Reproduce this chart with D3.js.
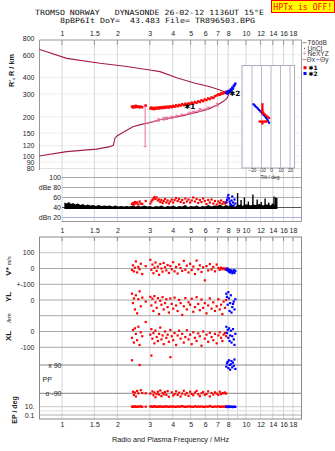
<!DOCTYPE html>
<html><head><meta charset="utf-8">
<script src="https://cdn.jsdelivr.net/npm/d3@7"></script>
<style>body{margin:0;background:#fff}svg{display:block}</style>
</head><body><svg id="c" width="335" height="451"></svg>
<script>
// ---------------- DATA ----------------
const titleLine1 = "TROMSO NORWAY   DYNASONDE 26-02-12 1136UT 15°E";
const titleLine2 = "8pBP6It DoY=  43.483 File= TR896503.BPG";
const warnText = "HPTx is OFF!";
const freqTicksTop = [1,1.5,2,3,4,5,6,7,8,10,12,14,16,18];
const freqTicksMid = [1,1.5,2,3,4,5,6,7,8,9,10,12,14,16,18];
const heightTicks = [800,600,400,300,200,150,120,100,90,80];
const dbTicks = [100,80,60,40,20];
const dbTickLabels = ["100","dBe 80","60","40","dBn 20"];
const tiltTicks = [-20,-10,0,10,20];

// model profile (plasma freq vs real height), bottomside then topside
const profFreq = [0.75,1.06,1.54,1.82,1.90,1.92,1.94,1.98,2.2,2.43,2.7,3.0,3.41,3.87,4.47,5.17,5.62,6.23,6.99,7.5,7.85,8.02,7.95,7.85,7.22,6.37,5.17,4.2,3.41,3.0,2.2,1.61,1.06,0.75];
const profH    = [100,108,113,118,121,128,137,142,155,168,175,180,190,196,203,213,220,229,247,262,276,292,300,307,321,341,366,400,445,458,490,516,563,661];

// NeXYZ profile points with error bars
const neFreq = [2.83,3.34,3.58,3.70,3.95,4.20,4.47,4.92,5.17,5.62,6.23,6.99];
const neH    = [178,189,193,195,198,202,206,213,217,226,233,248];
const neLo   = [118,185,189,191,194,198,202,209,213,221,228,242];
const neHi   = [246,193,197,199,202,206,210,217,221,231,238,254];

// O-mode echoes (*1)
const oFreq = [2.40,2.43,2.46,2.49,2.52,2.56,2.60,2.64,2.68,2.73,
 2.85,3.02,3.06,3.10,3.14,3.18,3.22,3.27,3.32,3.37,
 3.42,3.47,3.52,3.57,3.63,3.69,3.75,3.81,3.88,3.95,
 4.02,4.09,4.17,4.25,4.33,4.41,4.50,4.59,4.68,4.77,
 4.87,4.97,5.07,5.17,5.28,5.39,5.50,5.61,5.73,5.85,
 5.97,6.10,6.23,6.36,6.50,6.64,6.78,6.93,7.08,7.20,
 7.32,7.44,7.56,7.68,7.80];
const oHeight = [240,236,241,237,243,238,241,236,240,237,
 244,232,236,230,234,229,235,231,236,232,
 237,233,238,234,239,235,240,236,241,237,
 243,239,245,241,247,244,250,246,252,248,
 254,251,257,253,260,256,263,260,268,264,
 272,269,277,274,282,279,288,292,298,295,
 303,300,308,305,312];
const oAmp = [47,49,46,51,48,50,46,52,48,47,
 53,48,52,55,58,61,57,60,54,56,
 51,55,49,53,57,50,54,48,52,56,
 50,55,59,53,57,51,55,49,58,52,
 56,50,54,60,52,57,49,55,51,58,
 53,47,55,50,56,48,53,46,52,49,
 54,47,51,48,50];
const oVstar = [-10,20,-18,5,45,-25,10,-5,30,-35,
 15,55,-8,25,-30,5,38,-15,12,-40,
 28,0,-20,35,8,-12,22,-28,15,-5,
 40,-18,10,-32,25,3,-15,48,-8,18,
 -25,30,-10,12,-35,50,-5,20,-22,8,
 -75,15,-12,28,-6,10,-18,25,3,-8,
 5,-4,2,-6,0];
const oYL = [40,-20,10,-60,30,-85,5,55,-40,15,
 -10,20,-35,8,-70,25,-15,-50,12,-90,
 -5,-30,18,-60,-20,5,-45,-80,10,-25,
 -55,15,-35,-70,0,-20,-95,-40,12,-60,
 -15,-30,8,-75,-45,18,-25,-65,3,-50,
 -20,-85,-35,10,-55,-15,-70,-40,5,-60,
 -30,-90,-10,-50,0];
const oXL = [-40,10,-70,20,-15,-55,30,-85,-5,-30,
 60,-20,15,-45,-10,-75,5,-35,-60,-15,
 25,-50,-25,-80,0,-40,-20,-65,10,-30,
 -55,-10,-85,-25,5,-45,-15,-70,-35,8,
 -50,-20,-80,-5,-40,-60,-12,-30,-90,0,
 -45,-20,-65,-8,-35,-55,-15,-75,-25,-5,
 -40,-60,-20,-10,-30];
const oPP = [120,-80,-100,-85,-110,-75,-90,90,-70,-88,
 -90,-92,150,-78,-102,-85,-115,-95,-80,-98,
 -72,-108,-88,-96,-82,-100,-76,-112,140,-84,
 -104,-95,-78,-100,-86,-110,-92,-74,-98,-88,
 -106,-80,-94,-102,-85,-75,-96,-108,-90,-82,
 -100,-94,-78,-110,-88,-98,-84,-92,-100,-80,
 -95,-88,-90,-85,-92];
const oEP = [10,11,9,12,10,9.5,11,10,13,9,
 10,11,12,9,10,14,10,9,11,10,
 12,10,9,11,10,13,10,9,12,10,
 11,10,9,12,10,11,14,10,9,10,
 12,11,10,9,13,10,11,10,12,9,
 10,11,10,15,10,9,11,10,12,10,
 9,11,10,10,12];

// X-mode echoes (*2)
const xFreq   = [7.82,7.88,7.95,8.02,8.08,8.14,8.20,8.27,8.34,8.42,8.50,8.58,8.66,8.75];
const xHeight = [305,310,302,315,308,318,312,325,320,335,330,345,350,360];
const xAmp    = [50,55,60,65,58,52,48,45,54,62,50,44,56,48];
const xVstar  = [-5,-10,0,-15,-20,-8,-25,-12,-18,-30,-22,-10,-28,-15];
const xYL     = [40,20,-30,50,10,-70,-20,30,-80,-45,-25,-10,-60,5];
const xXL     = [30,-10,10,-40,20,-60,-25,5,-70,-30,15,-50,-85,-15];
const xPP     = [80,100,110,70,120,90,60,95,115,75,105,85,125,65];
const xEP     = [9,10,8,11,9.5,10,8.5,9,10,9,8,9.5,10,9];

// noise level (dB)
const noiseFreq = [1.03,1.06,1.09,1.12,1.15,1.18,1.22,1.26,1.30,1.34,
 1.38,1.43,1.48,1.53,1.58,1.64,1.70,1.76,1.82,1.88,
 1.95,2.02,2.09,2.17,2.25,2.33,2.42,2.51,2.60,2.70,
 2.80,2.90,3.01,3.12,3.24,3.36,3.48,3.61,3.75,3.89,
 4.03,4.18,4.34,4.50,4.67,4.84,5.02,5.21,5.40,5.60,
 5.81,6.03,6.25,6.48,6.72,6.97,7.23,7.50,7.78,8.07,
 8.37,8.68,9.00,9.20,9.40,9.60,9.80,10.0,10.3,10.6,
 10.9,11.2,11.5,11.8,12.1,12.4,12.7,13.0,13.3,13.6,
 13.9,14.2,14.5,14.7];
const noiseDb = [50,48,51,47,49,46,48,45,47,44,
 46,44,45,43,45,43,44,43,44,42,
 44,42,43,42,43,42,44,42,43,42,
 44,42,43,41,43,42,44,41,43,42,
 44,41,43,42,45,41,43,42,44,41,
 43,42,45,42,44,43,46,42,45,43,
 47,41,69,45,55,43,60,46,52,44,
 66,45,56,47,51,44,58,46,50,44,
 48,62,60,59];
const noiseBase = 37;

// tilt inset
const tiltRedDeg = [-9,-9,-9,-9,-9,-9.5,-8,-6.5,-5,-3.5,-2,-12,-10,-8,-6,-4.5,-9];
const tiltRedH   = [250,240,230,222,212,222,215,209,204,200,196,184,184,184,184,184,178];
const tiltBlueDeg = [-18.5,-17,-15.5,-14,-12.5,-11,-9.5,-8,-6.5,-5,-3.5,-2];
const tiltBlueH   = [250,244,238,232,226,220,214,208,202,196,188,180];

const traceLabels = ["\u27311","\u27312"];
const traceLabelFreq = [4.62,8.12];
const traceLabelH = [242,305];

// ---------------- DRAW ----------------
const svg = d3.select('#c');
const SANS = "'Liberation Sans', Arial, sans-serif";
const MONO = "'DejaVu Sans Mono', monospace";
const RED = "#ff0000", BLUE = "#0000ff", PROF = "#a31b4b", PINK = "#e8709a";
const X0 = 39.5, X1 = 301.5;
const T0 = 40, T1 = 170, TD = 221.5, L0 = 237, L1 = 419;

const x = d3.scaleLog().domain([1,10]).range([62,246]);
const hY = d3.scaleLog().domain([100,800]).range([156,38.5]);
const dbY = d3.scaleLinear().domain([20,100]).range([217.5,177.5]);
const vY = d3.scaleLinear().domain([-100,100]).range([284.3,252.7]);
const ylY = d3.scaleLinear().domain([-100,100]).range([315.7,284.3]);
const xlY = d3.scaleLinear().domain([-100,100]).range([347.3,315.7]);
const ppY = d3.scaleLinear().domain([-90,90]).range([393.3,365]);
const epY = d3.scaleLog().domain([0.1,10]).range([415,406.7]);
const tiltX = d3.scaleLinear().domain([-20,20]).range([252,290]);

// title
svg.append('text').attr('x',35).attr('y',14.6).attr('textLength',229).attr('lengthAdjust','spacingAndGlyphs')
  .style('white-space','pre').attr('font-family',MONO).attr('font-size',7.2).attr('fill','#111').text(titleLine1);
svg.append('text').attr('x',60).attr('y',23).attr('textLength',195).attr('lengthAdjust','spacingAndGlyphs')
  .style('white-space','pre').attr('font-family',MONO).attr('font-size',7.2).attr('fill','#111').text(titleLine2);
svg.append('rect').attr('x',271.5).attr('y',0.5).attr('width',63).attr('height',12).attr('fill','#ffff00').attr('stroke','#ff0000');
svg.append('text').attr('x',273.3).attr('y',10).attr('textLength',59).attr('lengthAdjust','spacingAndGlyphs')
  .attr('font-family',MONO).attr('font-size',8.6).attr('fill','#ff0000').text(warnText);

// grids
const grid = svg.append('g');
grid.selectAll(null).data(heightTicks.filter(h=>hY(h)>T0+1)).join('line')
  .attr('x1',X0).attr('x2',X1).attr('y1',d=>hY(d)).attr('y2',d=>hY(d)).attr('stroke','#eeeeee');
grid.selectAll(null).data(freqTicksTop).join('line')
  .attr('x1',d=>x(d)).attr('x2',d=>x(d)).attr('y1',T0).attr('y2',TD).attr('stroke','#d6d6d6');
grid.selectAll(null).data(freqTicksMid).join('line')
  .attr('x1',d=>x(d)).attr('x2',d=>x(d)).attr('y1',L0).attr('y2',L1).attr('stroke','#d6d6d6');
grid.selectAll(null).data(freqTicksTop).join('line')
  .attr('x1',d=>x(d)).attr('x2',d=>x(d)).attr('y1',T0).attr('y2',T0+5).attr('stroke','#999');
grid.selectAll(null).data(freqTicksMid).join('line')
  .attr('x1',d=>x(d)).attr('x2',d=>x(d)).attr('y1',L0).attr('y2',L0+4).attr('stroke','#888');
grid.append('line').attr('x1',X0).attr('x2',X1).attr('y1',T1-1.5).attr('y2',T1-1.5).attr('stroke','#d0d0d0').attr('stroke-dasharray','1,1');
grid.selectAll(null).data(dbTicks).join('line')
  .attr('x1',62).attr('x2',X1).attr('y1',d=>dbY(d)).attr('y2',d=>dbY(d))
  .attr('stroke',d=>d===40?'#555':(d===20?'#aab0e6':'#aaa'));
const lowLines = [
  [vY(100),'#c4c4c4'],[vY(0),'#a8a8a8'],[vY(-100),'#a8a8a8'],
  [ylY(0),'#a8a8a8'],[ylY(-100),'#a8a8a8'],[xlY(0),'#a8a8a8'],[xlY(-100),'#a8a8a8'],
  [ppY(90),'#888'],[ppY(-90),'#888'],[epY(10),'#c8c8c8'],[epY(1),'#dedede'],[epY(0.1),'#b0b0b0']];
grid.selectAll(null).data(lowLines).join('line')
  .attr('x1',X0).attr('x2',X1).attr('y1',d=>d[0]).attr('y2',d=>d[0]).attr('stroke',d=>d[1]);

// frames
const frame = svg.append('g').attr('fill','none').attr('stroke','#999');
frame.append('path').attr('d',`M${X0},${T1}V${T0}H${X1}V${TD}H${X0+22}`);
frame.append('rect').attr('x',X0).attr('y',L0).attr('width',X1-X0).attr('height',L1-L0).attr('stroke','#8a8a8a');

svg.append('clipPath').attr('id','ctop').append('rect').attr('x',X0).attr('y',T0).attr('width',X1-X0).attr('height',T1-T0);

function styleAxis(g){ g.select('.domain').remove(); g.selectAll('text').attr('font-family',SANS).attr('font-size',7).attr('fill','#222'); g.selectAll('line').remove(); }
svg.append('g').attr('transform',`translate(0,${T0})`)
  .call(d3.axisTop(x).tickValues(freqTicksTop).tickFormat(d3.format('')).tickSize(0).tickPadding(4.5)).call(styleAxis);
svg.append('g').attr('transform',`translate(0,${L0})`)
  .call(d3.axisTop(x).tickValues(freqTicksMid).tickFormat(d3.format('')).tickSize(0).tickPadding(4.5)).call(styleAxis);
svg.append('g').attr('transform',`translate(0,${L1})`)
  .call(d3.axisBottom(x).tickValues(freqTicksTop).tickFormat(d3.format('')).tickSize(0).tickPadding(3.5)).call(styleAxis);

svg.append('g').attr('transform',`translate(${X0},0)`)
  .call(d3.axisLeft(hY).tickValues(heightTicks).tickFormat(d3.format('d')).tickSize(0).tickPadding(5)).call(styleAxis);
svg.append('g').attr('transform',`translate(62,0)`)
  .call(d3.axisLeft(dbY).tickValues(dbTicks).tickFormat((d,i)=>dbTickLabels[i]).tickSize(0).tickPadding(1)).call(styleAxis);
function leftLabels(scale, vals, labels){
  svg.append('g').attr('transform',`translate(${X0},0)`)
   .call(d3.axisLeft(scale).tickValues(vals).tickFormat((d,i)=>labels[i]).tickSize(0).tickPadding(5)).call(styleAxis);
}
leftLabels(vY,[100,0,-100],["100","0","+-100"]);
leftLabels(ylY,[0],["0"]);
leftLabels(xlY,[0,-100],["0","-100"]);
leftLabels(epY,[10,0.1],["10.","0.1"]);
svg.append('g').attr('transform',`translate(61.5,0)`)
  .call(d3.axisLeft(ppY).tickValues([90,-90]).tickFormat(d=>d>0?"x 90":"o -90").tickSize(0).tickPadding(0)).call(styleAxis);
svg.append('text').attr('x',42.5).attr('y',381.8).attr('font-family',SANS).attr('font-size',7).attr('fill','#222').text('PP');

function rot(xp, yp, txt, size, weight){
  return svg.append('text').attr('transform',`translate(${xp},${yp}) rotate(-90)`).attr('text-anchor','middle')
   .attr('font-family',SANS).attr('font-size',size).attr('font-weight',weight||'bold').attr('fill','#222').text(txt);
}
rot(14,70.5,"R', R / km",7.3);
const vs = svg.append('text').attr('transform',`translate(10.5,266) rotate(-90)`).attr('text-anchor','middle')
  .attr('font-family',SANS).attr('fill','#222');
vs.append('tspan').attr('font-size',8).attr('font-weight','bold').text('V*');
vs.append('tspan').attr('font-size',5.5).attr('dx',2).text('m/s');
rot(10.5,297,"YL",8);
rot(10.5,318,"/km",6,'normal');
rot(10.5,336,"XL",8);
rot(16.5,410,"EP / deg",7);
svg.append('text').attr('x',170.5).attr('y',441.5).attr('text-anchor','middle').attr('font-family',SANS)
  .attr('font-size',7.3).attr('fill','#222').text('Radio and Plasma Frequency / MHz');

// ---- top panel data ----
const topG = svg.append('g').attr('clip-path','url(#ctop)');
topG.append('path').datum(d3.range(profFreq.length))
  .attr('d',d3.line().x(i=>x(profFreq[i])).y(i=>hY(profH[i])))
  .attr('fill','none').attr('stroke',PROF).attr('stroke-width',1.1);
topG.append('path').datum(d3.range(neFreq.length))
  .attr('d',d3.line().x(i=>x(neFreq[i])).y(i=>hY(neH[i])))
  .attr('fill','none').attr('stroke',PINK).attr('stroke-width',0.9);
const ne = topG.append('g').attr('stroke',PINK).attr('stroke-width',1);
d3.range(neFreq.length).forEach(i=>{
  const xx=x(neFreq[i]);
  ne.append('line').attr('x1',xx).attr('x2',xx).attr('y1',hY(neLo[i])).attr('y2',hY(neHi[i]));
  ne.append('line').attr('x1',xx-1.5).attr('x2',xx+1.5).attr('y1',hY(neLo[i])).attr('y2',hY(neLo[i]));
  ne.append('line').attr('x1',xx-1.5).attr('x2',xx+1.5).attr('y1',hY(neHi[i])).attr('y2',hY(neHi[i]));
});
function squares(g, n, xf, yf, color, s){
  g.selectAll(null).data(d3.range(n)).join('rect')
   .attr('x',i=>xf(i)-s/2).attr('y',i=>yf(i)-s/2).attr('width',s).attr('height',s).attr('fill',color);
}
squares(topG, oFreq.length, i=>x(oFreq[i]), i=>hY(oHeight[i]), RED, 2.4);
squares(topG, xFreq.length, i=>x(xFreq[i]), i=>hY(xHeight[i]), BLUE, 2.4);

// inset tilt plot
const IX0=242, IX1=294.5, IY0=65.5, IY1=168;
svg.append('rect').attr('x',IX0).attr('y',IY0).attr('width',IX1-IX0).attr('height',IY1-IY0).attr('fill','#fff').attr('stroke','#aaaabf');
svg.selectAll(null).data(tiltTicks).join('line').attr('x1',d=>tiltX(d)).attr('x2',d=>tiltX(d)).attr('y1',IY0).attr('y2',IY1).attr('stroke','#b8b8c8');
svg.append('g').attr('transform',`translate(0,${IY1})`)
  .call(d3.axisBottom(tiltX).tickValues(tiltTicks).tickFormat(d3.format('d')).tickSize(0).tickPadding(0.8))
  .call(g=>{g.select('.domain').remove(); g.selectAll('line').remove(); g.selectAll('text').attr('font-family',SANS).attr('font-size',4.6).attr('fill','#333');});
svg.append('text').attr('x',270).attr('y',178.6).attr('text-anchor','middle').attr('font-family',SANS).attr('font-size',5).attr('fill','#333').text('Tilt / deg');
svg.append('path').datum(d3.range(tiltBlueDeg.length)).attr('d',d3.line().x(i=>tiltX(tiltBlueDeg[i])).y(i=>hY(tiltBlueH[i])))
  .attr('fill','none').attr('stroke',BLUE).attr('stroke-width',1.6);
squares(svg, tiltBlueDeg.length, i=>tiltX(tiltBlueDeg[i]), i=>hY(tiltBlueH[i]), BLUE, 2);
svg.append('path').datum(d3.range(5)).attr('d',d3.line().x(i=>tiltX(tiltRedDeg[i])).y(i=>hY(tiltRedH[i])))
  .attr('fill','none').attr('stroke',RED).attr('stroke-width',1.2);
svg.append('path').datum(d3.range(11,16)).attr('d',d3.line().x(i=>tiltX(tiltRedDeg[i])).y(i=>hY(tiltRedH[i])))
  .attr('fill','none').attr('stroke',RED).attr('stroke-width',1.2);
squares(svg, tiltRedDeg.length, i=>tiltX(tiltRedDeg[i]), i=>hY(tiltRedH[i]), RED, 2.2);

svg.selectAll(null).data(traceLabels).join('text')
  .attr('x',(d,i)=>x(traceLabelFreq[i])).attr('y',(d,i)=>hY(traceLabelH[i])+3)
  .attr('font-family',"'DejaVu Sans', sans-serif").attr('font-size',7.2).attr('font-weight','bold').attr('fill','#000').text(d=>d);

// legend
const lg = svg.append('g').attr('font-family',SANS).attr('font-size',6.6).attr('fill','#333');
lg.append('line').attr('x1',302.5).attr('x2',306.5).attr('y1',42.7).attr('y2',42.7).attr('stroke','#888');
lg.append('text').attr('x',307.5).attr('y',45.2).text('T60dB');
lg.append('rect').attr('x',304).attr('y',47.8).attr('width',1).attr('height',1).attr('fill','#333');
lg.append('text').attr('x',307.5).attr('y',50.8).text('UnCl');
lg.append('text').attr('x',302.5).attr('y',56.4).attr('fill',PINK).text('+');
lg.append('text').attr('x',307.5).attr('y',56.4).text('NeXYZ');
lg.append('line').attr('x1',302.5).attr('x2',306).attr('y1',59.6).attr('y2',59.6).attr('stroke',PINK);
lg.append('text').attr('x',306.5).attr('y',62).text('\u0398x');
lg.append('line').attr('x1',316).attr('x2',319.5).attr('y1',59.6).attr('y2',59.6).attr('stroke','#8888ff');
lg.append('text').attr('x',320).attr('y',62).text('\u0398y');
lg.append('rect').attr('x',303.5).attr('y',66.2).attr('width',3).attr('height',3).attr('fill',RED);
lg.append('text').attr('x',308.5).attr('y',69.9).attr('font-family',"'DejaVu Sans', sans-serif").attr('font-size',6).attr('font-weight','bold').attr('fill','#000').text('\u27311');
lg.append('rect').attr('x',303.5).attr('y',72).attr('width',3).attr('height',3).attr('fill',BLUE);
lg.append('text').attr('x',308.5).attr('y',76.2).attr('font-family',"'DejaVu Sans', sans-serif").attr('font-size',6).attr('font-weight','bold').attr('fill','#000').text('\u27312');

// ---- dB panel ----
const nIdx = d3.range(noiseFreq.length);
const bandTop = i => noiseFreq[i] < 8.9 ? noiseDb[i] : Math.min(noiseDb[i], 46);
svg.append('path').datum(nIdx)
  .attr('d',d3.area().x(i=>x(noiseFreq[i])).y0(dbY(noiseBase)).y1(i=>dbY(bandTop(i))))
  .attr('fill','#000');
svg.append('g').selectAll('line').data(nIdx.filter(i=>noiseFreq[i]>=8.9 && noiseDb[i]>46)).join('line')
  .attr('x1',i=>x(noiseFreq[i])).attr('x2',i=>x(noiseFreq[i]))
  .attr('y1',dbY(noiseBase)).attr('y2',i=>dbY(noiseDb[i])).attr('stroke','#000').attr('stroke-width',1.4);
squares(svg, oFreq.length, i=>x(oFreq[i]), i=>dbY(oAmp[i]), RED, 2.2);
squares(svg, xFreq.length, i=>x(xFreq[i]), i=>dbY(xAmp[i]), BLUE, 2.2);

// ---- lower panel ----
const low = svg.append('g');
[[oVstar,vY],[oYL,ylY],[oXL,xlY],[oPP,ppY],[oEP,epY]].forEach(([arr,sc])=>{
  squares(low, oFreq.length, i=>x(oFreq[i]), i=>sc(arr[i]), RED, 2.2);
});
[[xVstar,vY],[xYL,ylY],[xXL,xlY],[xPP,ppY],[xEP,epY]].forEach(([arr,sc])=>{
  squares(low, xFreq.length, i=>x(xFreq[i]), i=>sc(arr[i]), BLUE, 2.2);
});
</script></body></html>
